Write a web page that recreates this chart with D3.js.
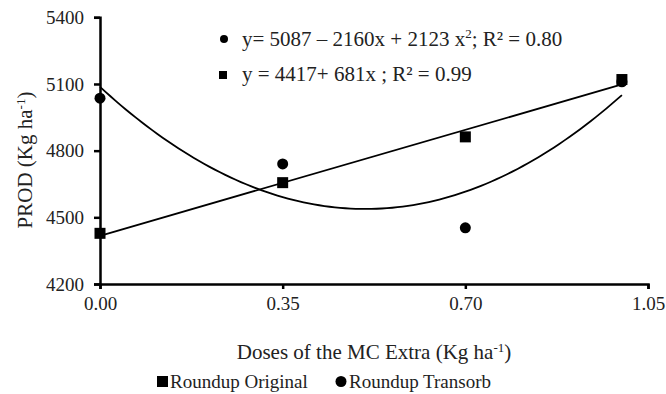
<!DOCTYPE html>
<html>
<head>
<meta charset="utf-8">
<script src="https://cdn.jsdelivr.net/npm/d3@7"></script>
<style>
  html, body { margin: 0; padding: 0; background: #fff; }
  svg { display: block; }
</style>
</head>
<body>
<div id="chart"></div>
<script>
// doses of MC Extra (Kg ha-1)
const doses = [0, 0.35, 0.70, 1.0];
// yield per herbicide
const roundupOriginal = [4428, 4656, 4862, 5120];
const roundupTransorb = [5036, 4740, 4453, 5110];
// fitted trend lines (as printed on the chart)
const quadCoef = [5087, -2160, 2123];
const linCoef = [4417, 681];
const xTicks = [0, 0.35, 0.70, 1.05];
const yTicks = [4200, 4500, 4800, 5100, 5400];

const width = 666, height = 394;
const serif = "'Liberation Serif', 'DejaVu Serif', serif";

const svg = d3.select("#chart").append("svg")
    .attr("width", width)
    .attr("height", height)
    .attr("font-family", serif);

const x = d3.scaleLinear().domain([0, 1.05]).range([100, 648]);
const y = d3.scaleLinear().domain([4200, 5400]).range([284, 17.3]);

// axes
const xAxis = svg.append("g")
    .attr("transform", `translate(0,${y(4200)})`)
    .call(d3.axisBottom(x).tickValues(xTicks).tickSize(5).tickPadding(8).tickFormat(d3.format(".2f")));
const yAxis = svg.append("g")
    .attr("transform", `translate(${x(0)},0)`)
    .call(d3.axisLeft(y).tickValues(yTicks).tickSize(6).tickPadding(10).tickFormat(d3.format("d")));

[xAxis, yAxis].forEach(g => {
    g.attr("font-family", serif).attr("font-size", 19);
    g.select(".domain").attr("stroke", "#000").attr("stroke-width", 2.5);
    g.selectAll(".tick line").attr("stroke", "#000").attr("stroke-width", 2.5);
    g.selectAll(".tick text").attr("fill", "#222");
});

// trend lines
const trendX = d3.range(0, 101).map(i => doses[doses.length - 1] * i / 100);
const line = d3.line().x(d => x(d[0])).y(d => y(d[1]));

svg.append("path")
    .datum(trendX.map(v => [v, quadCoef[0] + quadCoef[1] * v + quadCoef[2] * v * v]))
    .attr("d", line)
    .attr("fill", "none")
    .attr("stroke", "#000")
    .attr("stroke-width", 1.8);

svg.append("path")
    .datum([0, doses[doses.length - 1]].map(v => [v, linCoef[0] + linCoef[1] * v]))
    .attr("d", line)
    .attr("fill", "none")
    .attr("stroke", "#000")
    .attr("stroke-width", 1.8);

// points
svg.append("g").selectAll("circle")
    .data(doses.map((d, i) => [d, roundupTransorb[i]]))
    .join("circle")
    .attr("cx", d => x(d[0]))
    .attr("cy", d => y(d[1]))
    .attr("r", 5.5)
    .attr("fill", "#000");

svg.append("g").selectAll("rect")
    .data(doses.map((d, i) => [d, roundupOriginal[i]]))
    .join("rect")
    .attr("x", d => x(d[0]) - 5.5)
    .attr("y", d => y(d[1]) - 5.5)
    .attr("width", 11)
    .attr("height", 11)
    .attr("fill", "#000");

// equations
const eq = svg.append("g").attr("font-size", 21).attr("fill", "#222");
eq.append("circle").attr("cx", 224).attr("cy", 39).attr("r", 4).attr("fill", "#000");
const t1 = eq.append("text").attr("x", 242).attr("y", 46);
t1.append("tspan").text("y= 5087 – 2160x + 2123 x");
t1.append("tspan").attr("dy", -8).attr("font-size", 13).text("2");
t1.append("tspan").attr("dy", 8).text("; R² = 0.80");

eq.append("rect").attr("x", 219).attr("y", 71).attr("width", 8).attr("height", 8).attr("fill", "#000");
eq.append("text").attr("x", 242).attr("y", 81).text("y = 4417+ 681x ; R² = 0.99");

// axis titles
const xt = svg.append("text")
    .attr("x", 374).attr("y", 359)
    .attr("text-anchor", "middle")
    .attr("fill", "#222")
    .attr("font-size", 21);
xt.append("tspan").text("Doses of the MC Extra (Kg ha");
xt.append("tspan").attr("dy", -7).attr("font-size", 13).text("-1");
xt.append("tspan").attr("dy", 7).text(")");

const yt = svg.append("text")
    .attr("transform", "translate(32,160) rotate(-90)")
    .attr("text-anchor", "middle")
    .attr("fill", "#222")
    .attr("font-size", 21);
yt.append("tspan").text("PROD (Kg ha");
yt.append("tspan").attr("dy", -7).attr("font-size", 13).text("-1");
yt.append("tspan").attr("dy", 7).text(")");

// legend
const legend = svg.append("g").attr("fill", "#222").attr("font-size", 19);
legend.append("rect").attr("x", 157).attr("y", 376).attr("width", 11).attr("height", 11).attr("fill", "#000");
legend.append("text").attr("x", 170).attr("y", 388).text("Roundup Original");
legend.append("circle").attr("cx", 341).attr("cy", 381.5).attr("r", 5.5).attr("fill", "#000");
legend.append("text").attr("x", 349).attr("y", 388).text("Roundup Transorb");
</script>
</body>
</html>
